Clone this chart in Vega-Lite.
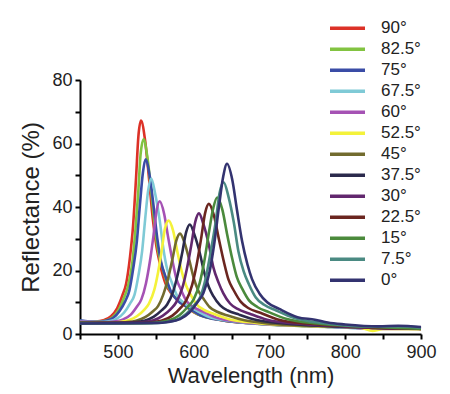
{
  "$schema": "https://vega.github.io/schema/vega-lite/v6.json",
  "autosize": {"type": "none"},
  "padding": {"left": 80, "top": 80, "right": 29, "bottom": 60},
  "width": 341,
  "height": 254,
  "background": "white",
  "config": {
    "view": {"stroke": null},
    "font": "Liberation Sans",
    "axis": {
      "domainColor": "#000", "domainWidth": 2, "tickColor": "#000", "tickWidth": 2, "tickSize": 5,
      "grid": false, "labelFont": "Liberation Sans", "labelFontSize": 18, "labelColor": "#222",
      "titleFont": "Liberation Sans", "titleFontWeight": "normal", "titleColor": "#222",
      "labelFlush": false, "labelOverlap": false
    },
    "legend": {
      "labelFont": "Liberation Sans", "labelFontSize": 17, "labelColor": "#222"
    }
  },
  "data": {"values": [
    {"angle":"90°","nm":450,"R":3.8},{"angle":"90°","nm":471,"R":3.9},{"angle":"90°","nm":481,"R":4.3},{"angle":"90°","nm":491,"R":5.6},{"angle":"90°","nm":499,"R":8.1},{"angle":"90°","nm":506,"R":12.2},{"angle":"90°","nm":511,"R":16.0},{"angle":"90°","nm":516,"R":24.3},{"angle":"90°","nm":520,"R":34.0},{"angle":"90°","nm":524,"R":49.3},{"angle":"90°","nm":527,"R":62.1},{"angle":"90°","nm":530.5,"R":67.2},{"angle":"90°","nm":536,"R":60.8},{"angle":"90°","nm":541,"R":49.2},{"angle":"90°","nm":546,"R":36.4},{"angle":"90°","nm":551,"R":27.4},{"angle":"90°","nm":556,"R":21.6},{"angle":"90°","nm":563,"R":15.8},{"angle":"90°","nm":571,"R":12.6},{"angle":"90°","nm":583,"R":10.0},{"angle":"90°","nm":601,"R":6.7},{"angle":"90°","nm":631,"R":4.6},{"angle":"90°","nm":681,"R":3.3},{"angle":"90°","nm":751,"R":2.5},{"angle":"90°","nm":800,"R":2.2},{"angle":"90°","nm":840,"R":1.6},{"angle":"90°","nm":870,"R":2.0},{"angle":"90°","nm":900,"R":1.6},
    {"angle":"82.5°","nm":450,"R":3.9},{"angle":"82.5°","nm":472,"R":3.9},{"angle":"82.5°","nm":483,"R":4.2},{"angle":"82.5°","nm":493,"R":5.3},{"angle":"82.5°","nm":501,"R":7.6},{"angle":"82.5°","nm":508,"R":11.4},{"angle":"82.5°","nm":513,"R":14.8},{"angle":"82.5°","nm":519,"R":22.4},{"angle":"82.5°","nm":523,"R":32.3},{"angle":"82.5°","nm":527,"R":45.1},{"angle":"82.5°","nm":530,"R":56.7},{"angle":"82.5°","nm":534,"R":61.3},{"angle":"82.5°","nm":539,"R":55.5},{"angle":"82.5°","nm":544,"R":45.0},{"angle":"82.5°","nm":549,"R":33.3},{"angle":"82.5°","nm":554,"R":25.1},{"angle":"82.5°","nm":560,"R":19.9},{"angle":"82.5°","nm":567,"R":14.6},{"angle":"82.5°","nm":575,"R":11.7},{"angle":"82.5°","nm":587,"R":9.3},{"angle":"82.5°","nm":605,"R":6.3},{"angle":"82.5°","nm":636,"R":4.4},{"angle":"82.5°","nm":687,"R":3.2},{"angle":"82.5°","nm":758,"R":2.4},{"angle":"82.5°","nm":810,"R":2.1},{"angle":"82.5°","nm":850,"R":1.8},{"angle":"82.5°","nm":900,"R":1.7},
    {"angle":"75°","nm":450,"R":4.3},{"angle":"75°","nm":472,"R":3.8},{"angle":"75°","nm":483,"R":4.1},{"angle":"75°","nm":494,"R":5.1},{"angle":"75°","nm":502,"R":7.2},{"angle":"75°","nm":510,"R":10.5},{"angle":"75°","nm":515,"R":13.6},{"angle":"75°","nm":520,"R":20.3},{"angle":"75°","nm":525,"R":29.1},{"angle":"75°","nm":529,"R":40.5},{"angle":"75°","nm":533,"R":50.8},{"angle":"75°","nm":536.5,"R":55.0},{"angle":"75°","nm":542,"R":49.8},{"angle":"75°","nm":547,"R":40.5},{"angle":"75°","nm":552,"R":30.1},{"angle":"75°","nm":557,"R":22.7},{"angle":"75°","nm":563,"R":18.0},{"angle":"75°","nm":570,"R":13.4},{"angle":"75°","nm":578,"R":10.7},{"angle":"75°","nm":591,"R":8.6},{"angle":"75°","nm":609,"R":5.9},{"angle":"75°","nm":641,"R":4.2},{"angle":"75°","nm":693,"R":3.1},{"angle":"75°","nm":765,"R":2.4},{"angle":"75°","nm":820,"R":1.9},{"angle":"75°","nm":860,"R":2.1},{"angle":"75°","nm":900,"R":1.6},
    {"angle":"67.5°","nm":450,"R":4.1},{"angle":"67.5°","nm":477,"R":3.8},{"angle":"67.5°","nm":488,"R":4.0},{"angle":"67.5°","nm":499,"R":4.9},{"angle":"67.5°","nm":508,"R":6.7},{"angle":"67.5°","nm":516,"R":9.6},{"angle":"67.5°","nm":522,"R":12.4},{"angle":"67.5°","nm":527,"R":18.3},{"angle":"67.5°","nm":532,"R":26.1},{"angle":"67.5°","nm":536,"R":36.2},{"angle":"67.5°","nm":540,"R":45.3},{"angle":"67.5°","nm":544,"R":49.0},{"angle":"67.5°","nm":549,"R":44.4},{"angle":"67.5°","nm":555,"R":36.1},{"angle":"67.5°","nm":560,"R":26.9},{"angle":"67.5°","nm":565,"R":20.4},{"angle":"67.5°","nm":571,"R":16.3},{"angle":"67.5°","nm":578,"R":12.1},{"angle":"67.5°","nm":587,"R":9.8},{"angle":"67.5°","nm":600,"R":7.9},{"angle":"67.5°","nm":619,"R":5.5},{"angle":"67.5°","nm":651,"R":4.0},{"angle":"67.5°","nm":705,"R":2.9},{"angle":"67.5°","nm":779,"R":2.3},{"angle":"67.5°","nm":830,"R":1.8},{"angle":"67.5°","nm":870,"R":2.0},{"angle":"67.5°","nm":900,"R":1.7},
    {"angle":"60°","nm":450,"R":3.9},{"angle":"60°","nm":483,"R":3.7},{"angle":"60°","nm":495,"R":3.9},{"angle":"60°","nm":507,"R":4.6},{"angle":"60°","nm":517,"R":6.1},{"angle":"60°","nm":525,"R":8.6},{"angle":"60°","nm":531,"R":10.9},{"angle":"60°","nm":537,"R":15.9},{"angle":"60°","nm":542,"R":22.5},{"angle":"60°","nm":547,"R":31.0},{"angle":"60°","nm":551,"R":38.7},{"angle":"60°","nm":555,"R":41.8},{"angle":"60°","nm":561,"R":37.9},{"angle":"60°","nm":566,"R":30.9},{"angle":"60°","nm":572,"R":23.1},{"angle":"60°","nm":577,"R":17.6},{"angle":"60°","nm":583,"R":14.1},{"angle":"60°","nm":590,"R":10.6},{"angle":"60°","nm":599,"R":8.6},{"angle":"60°","nm":612,"R":7.1},{"angle":"60°","nm":632,"R":5.0},{"angle":"60°","nm":665,"R":3.7},{"angle":"60°","nm":720,"R":2.8},{"angle":"60°","nm":797,"R":2.2},{"angle":"60°","nm":850,"R":1.6},{"angle":"60°","nm":900,"R":1.6},
    {"angle":"52.5°","nm":450,"R":3.7},{"angle":"52.5°","nm":489,"R":3.6},{"angle":"52.5°","nm":502,"R":3.8},{"angle":"52.5°","nm":515,"R":4.4},{"angle":"52.5°","nm":525,"R":5.6},{"angle":"52.5°","nm":535,"R":7.7},{"angle":"52.5°","nm":541,"R":9.6},{"angle":"52.5°","nm":548,"R":13.9},{"angle":"52.5°","nm":553,"R":19.4},{"angle":"52.5°","nm":558,"R":26.6},{"angle":"52.5°","nm":562,"R":33.1},{"angle":"52.5°","nm":567,"R":35.7},{"angle":"52.5°","nm":573,"R":32.4},{"angle":"52.5°","nm":578,"R":26.5},{"angle":"52.5°","nm":584,"R":19.9},{"angle":"52.5°","nm":590,"R":15.3},{"angle":"52.5°","nm":596,"R":12.4},{"angle":"52.5°","nm":604,"R":9.3},{"angle":"52.5°","nm":613,"R":7.7},{"angle":"52.5°","nm":627,"R":6.3},{"angle":"52.5°","nm":648,"R":4.6},{"angle":"52.5°","nm":682,"R":3.5},{"angle":"52.5°","nm":740,"R":2.6},{"angle":"52.5°","nm":820,"R":2.0},{"angle":"52.5°","nm":836,"R":1.0},{"angle":"52.5°","nm":850,"R":1.6},{"angle":"52.5°","nm":900,"R":1.5},
    {"angle":"45°","nm":450,"R":3.6},{"angle":"45°","nm":495,"R":3.5},{"angle":"45°","nm":510,"R":3.7},{"angle":"45°","nm":524,"R":4.2},{"angle":"45°","nm":536,"R":5.3},{"angle":"45°","nm":546,"R":7.1},{"angle":"45°","nm":553,"R":8.8},{"angle":"45°","nm":560,"R":12.5},{"angle":"45°","nm":566,"R":17.3},{"angle":"45°","nm":572,"R":23.6},{"angle":"45°","nm":577,"R":29.3},{"angle":"45°","nm":582,"R":31.6},{"angle":"45°","nm":588,"R":28.7},{"angle":"45°","nm":594,"R":23.5},{"angle":"45°","nm":600,"R":17.7},{"angle":"45°","nm":606,"R":13.7},{"angle":"45°","nm":613,"R":11.1},{"angle":"45°","nm":621,"R":8.5},{"angle":"45°","nm":631,"R":7.0},{"angle":"45°","nm":645,"R":5.8},{"angle":"45°","nm":667,"R":4.3},{"angle":"45°","nm":704,"R":3.2},{"angle":"45°","nm":765,"R":2.5},{"angle":"45°","nm":850,"R":1.9},{"angle":"45°","nm":900,"R":1.6},
    {"angle":"37.5°","nm":450,"R":3.5},{"angle":"37.5°","nm":505,"R":3.5},{"angle":"37.5°","nm":520,"R":3.7},{"angle":"37.5°","nm":535,"R":4.2},{"angle":"37.5°","nm":547,"R":5.4},{"angle":"37.5°","nm":558,"R":7.5},{"angle":"37.5°","nm":565,"R":9.3},{"angle":"37.5°","nm":573,"R":13.4},{"angle":"37.5°","nm":579,"R":18.8},{"angle":"37.5°","nm":585,"R":25.7},{"angle":"37.5°","nm":590,"R":32.0},{"angle":"37.5°","nm":595,"R":34.5},{"angle":"37.5°","nm":601,"R":31.3},{"angle":"37.5°","nm":608,"R":25.6},{"angle":"37.5°","nm":614,"R":19.3},{"angle":"37.5°","nm":620,"R":14.8},{"angle":"37.5°","nm":626,"R":11.9},{"angle":"37.5°","nm":635,"R":9.0},{"angle":"37.5°","nm":645,"R":7.4},{"angle":"37.5°","nm":660,"R":6.1},{"angle":"37.5°","nm":683,"R":4.4},{"angle":"37.5°","nm":720,"R":3.3},{"angle":"37.5°","nm":783,"R":2.4},{"angle":"37.5°","nm":870,"R":1.8},{"angle":"37.5°","nm":900,"R":1.7},
    {"angle":"30°","nm":450,"R":3.4},{"angle":"30°","nm":517,"R":3.5},{"angle":"30°","nm":532,"R":3.7},{"angle":"30°","nm":547,"R":4.3},{"angle":"30°","nm":559,"R":5.7},{"angle":"30°","nm":570,"R":7.9},{"angle":"30°","nm":577,"R":10.0},{"angle":"30°","nm":585,"R":14.5},{"angle":"30°","nm":591,"R":20.5},{"angle":"30°","nm":597,"R":28.2},{"angle":"30°","nm":602,"R":35.2},{"angle":"30°","nm":607,"R":38.0},{"angle":"30°","nm":613,"R":34.5},{"angle":"30°","nm":620,"R":28.1},{"angle":"30°","nm":626,"R":21.0},{"angle":"30°","nm":633,"R":16.1},{"angle":"30°","nm":639,"R":12.9},{"angle":"30°","nm":648,"R":9.6},{"angle":"30°","nm":658,"R":7.9},{"angle":"30°","nm":674,"R":6.4},{"angle":"30°","nm":697,"R":4.5},{"angle":"30°","nm":735,"R":3.3},{"angle":"30°","nm":799,"R":2.4},{"angle":"30°","nm":860,"R":1.7},{"angle":"30°","nm":889,"R":1.8},{"angle":"30°","nm":900,"R":1.6},
    {"angle":"22.5°","nm":450,"R":3.4},{"angle":"22.5°","nm":530,"R":3.5},{"angle":"22.5°","nm":545,"R":3.7},{"angle":"22.5°","nm":560,"R":4.4},{"angle":"22.5°","nm":572,"R":5.8},{"angle":"22.5°","nm":583,"R":8.3},{"angle":"22.5°","nm":590,"R":10.5},{"angle":"22.5°","nm":598,"R":15.5},{"angle":"22.5°","nm":604,"R":21.9},{"angle":"22.5°","nm":610,"R":30.3},{"angle":"22.5°","nm":615,"R":38.0},{"angle":"22.5°","nm":620,"R":41.0},{"angle":"22.5°","nm":627,"R":37.1},{"angle":"22.5°","nm":633,"R":30.2},{"angle":"22.5°","nm":640,"R":22.6},{"angle":"22.5°","nm":646,"R":17.1},{"angle":"22.5°","nm":653,"R":13.7},{"angle":"22.5°","nm":662,"R":10.2},{"angle":"22.5°","nm":672,"R":8.2},{"angle":"22.5°","nm":688,"R":6.7},{"angle":"22.5°","nm":711,"R":4.6},{"angle":"22.5°","nm":750,"R":3.3},{"angle":"22.5°","nm":815,"R":2.4},{"angle":"22.5°","nm":860,"R":1.8},{"angle":"22.5°","nm":900,"R":1.7},
    {"angle":"15°","nm":450,"R":3.3},{"angle":"15°","nm":538,"R":3.4},{"angle":"15°","nm":553,"R":3.7},{"angle":"15°","nm":569,"R":4.4},{"angle":"15°","nm":581,"R":5.9},{"angle":"15°","nm":592,"R":8.5},{"angle":"15°","nm":600,"R":10.9},{"angle":"15°","nm":608,"R":16.1},{"angle":"15°","nm":614,"R":22.9},{"angle":"15°","nm":620,"R":31.8},{"angle":"15°","nm":626,"R":39.8},{"angle":"15°","nm":631,"R":43.0},{"angle":"15°","nm":638,"R":39.0},{"angle":"15°","nm":644,"R":31.6},{"angle":"15°","nm":651,"R":23.6},{"angle":"15°","nm":657,"R":17.9},{"angle":"15°","nm":664,"R":14.3},{"angle":"15°","nm":673,"R":10.6},{"angle":"15°","nm":684,"R":8.5},{"angle":"15°","nm":700,"R":6.8},{"angle":"15°","nm":723,"R":4.7},{"angle":"15°","nm":763,"R":3.3},{"angle":"15°","nm":829,"R":2.3},{"angle":"15°","nm":870,"R":1.9},{"angle":"15°","nm":900,"R":1.7},
    {"angle":"7.5°","nm":450,"R":3.3},{"angle":"7.5°","nm":547,"R":3.4},{"angle":"7.5°","nm":562,"R":3.7},{"angle":"7.5°","nm":578,"R":4.5},{"angle":"7.5°","nm":590,"R":6.3},{"angle":"7.5°","nm":601,"R":9.2},{"angle":"7.5°","nm":609,"R":11.8},{"angle":"7.5°","nm":616,"R":17.7},{"angle":"7.5°","nm":622,"R":25.3},{"angle":"7.5°","nm":629,"R":35.2},{"angle":"7.5°","nm":634,"R":44.2},{"angle":"7.5°","nm":639.5,"R":47.8},{"angle":"7.5°","nm":646,"R":43.2},{"angle":"7.5°","nm":653,"R":35.1},{"angle":"7.5°","nm":659,"R":26.1},{"angle":"7.5°","nm":666,"R":19.7},{"angle":"7.5°","nm":673,"R":15.6},{"angle":"7.5°","nm":682,"R":11.5},{"angle":"7.5°","nm":693,"R":9.2},{"angle":"7.5°","nm":709,"R":7.4},{"angle":"7.5°","nm":733,"R":5.0},{"angle":"7.5°","nm":773,"R":3.4},{"angle":"7.5°","nm":839,"R":2.3},{"angle":"7.5°","nm":875,"R":2.4},{"angle":"7.5°","nm":900,"R":2.0},
    {"angle":"0°","nm":450,"R":3.3},{"angle":"0°","nm":551,"R":3.5},{"angle":"0°","nm":566,"R":3.8},{"angle":"0°","nm":582,"R":4.7},{"angle":"0°","nm":594,"R":6.7},{"angle":"0°","nm":605,"R":10.0},{"angle":"0°","nm":613,"R":13.0},{"angle":"0°","nm":621,"R":19.6},{"angle":"0°","nm":627,"R":28.2},{"angle":"0°","nm":633,"R":39.4},{"angle":"0°","nm":639,"R":49.6},{"angle":"0°","nm":644,"R":53.6},{"angle":"0°","nm":651,"R":48.5},{"angle":"0°","nm":657,"R":39.3},{"angle":"0°","nm":664,"R":29.1},{"angle":"0°","nm":671,"R":21.9},{"angle":"0°","nm":677,"R":17.3},{"angle":"0°","nm":687,"R":12.7},{"angle":"0°","nm":697,"R":10.0},{"angle":"0°","nm":713,"R":7.9},{"angle":"0°","nm":737,"R":5.3},{"angle":"0°","nm":760,"R":4.5},{"angle":"0°","nm":777,"R":3.6},{"angle":"0°","nm":800,"R":3.0},{"angle":"0°","nm":844,"R":2.4},{"angle":"0°","nm":870,"R":2.6},{"angle":"0°","nm":900,"R":2.2}
  ]},
  "mark": {"type": "line", "interpolate": "monotone", "strokeWidth": 2.6},
  "encoding": {
    "x": {
      "field": "nm", "type": "quantitative",
      "scale": {"domain": [450, 900], "nice": false, "zero": false},
      "axis": {
        "title": "Wavelength (nm)", "titleFontSize": 22, "titlePadding": 4,
        "values": [450, 500, 550, 600, 650, 700, 750, 800, 850, 900],
        "labelExpr": "datum.value % 100 === 0 ? datum.label : ''",
        "labelPadding": 4
      }
    },
    "y": {
      "field": "R", "type": "quantitative",
      "scale": {"domain": [0, 80], "nice": false},
      "axis": {
        "title": "Reflectance (%)", "titleFontSize": 24, "titlePadding": 8,
        "values": [0, 10, 20, 30, 40, 50, 60, 70, 80],
        "labelExpr": "datum.value % 20 === 0 ? datum.label : ''",
        "labelPadding": 3
      }
    },
    "color": {
      "field": "angle", "type": "nominal",
      "scale": {
        "domain": ["90°","82.5°","75°","67.5°","60°","52.5°","45°","37.5°","30°","22.5°","15°","7.5°","0°"],
        "range": ["#dc3127","#82c341","#3a4ca6","#7fcad6","#a552b4","#f4f23a","#726b2e","#2b2a4c","#62286e","#6b2620","#4b8a3c","#4a8a82","#333370"]
      },
      "legend": {
        "title": null, "orient": "none", "legendX": 248, "legendY": -62,
        "symbolType": "stroke", "symbolSize": 1225, "symbolStrokeWidth": 3.5,
        "labelOffset": 14, "rowPadding": 0, "clipHeight": 20.6, "padding": 0
      }
    }
  }
}
